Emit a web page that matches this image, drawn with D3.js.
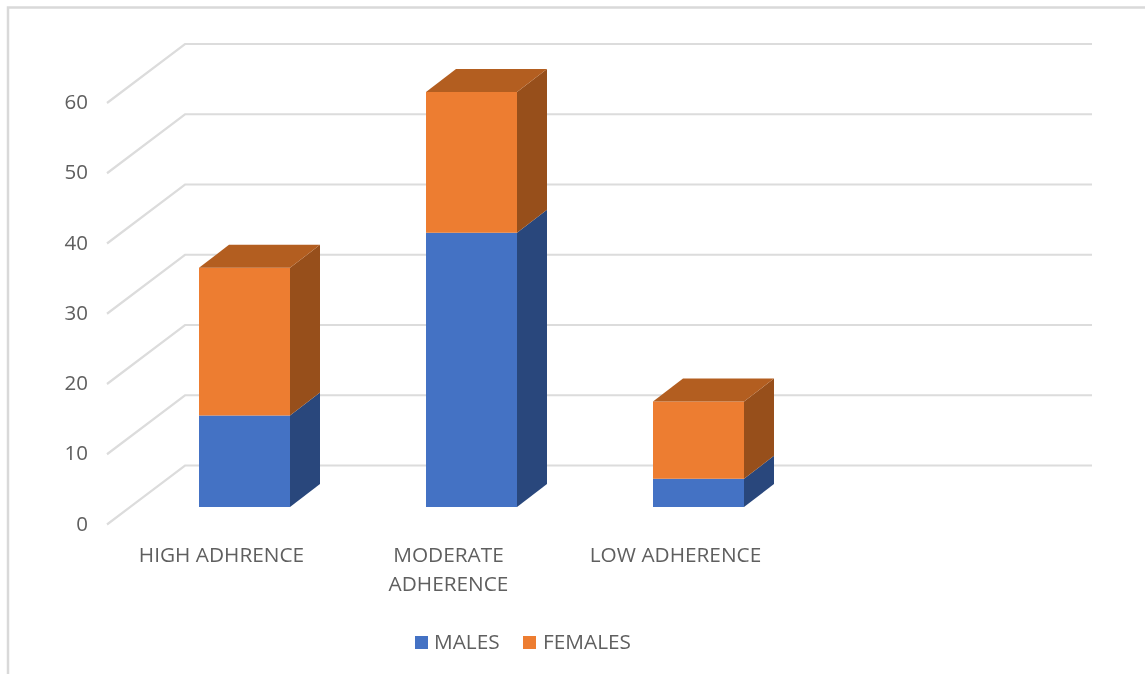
<!DOCTYPE html>
<html><head><meta charset="utf-8">
<script src="https://cdn.jsdelivr.net/npm/d3@7"></script>
<style>html,body{margin:0;background:#fff}svg{display:block;filter:blur(0.45px)}text{font-family:"Open Sans",sans-serif;fill:#5f5f5f}</style>
</head><body><svg id="c" width="1145" height="674"></svg>
<script>
const categories=[["HIGH ADHRENCE"],["MODERATE","ADHERENCE"],["LOW ADHERENCE"]];
const males=[13,39,4];
const females=[21,20,11];
const ticks=[0,10,20,30,40,50,60];
const seriesNames=["MALES","FEMALES"];
const frontColors=["#4472C4","#ED7D31"];
const sideColors=["#29477C","#974F1B"];
const topColor="#B35E20";

const svg=d3.select("#c");
// chart frame
svg.append("path").attr("d","M8,674V7.5H1145").attr("fill","none").attr("stroke","#d9d9d9").attr("stroke-width",2.5);

const yFront=d3.scaleLinear().domain([0,60]).range([524.5,103]);
const wallDx=78,wallDy=-59,wallLeft=107,wallRight=1092;
const gridG=svg.append("g");
ticks.forEach(t=>{
  const y=yFront(t);
  gridG.append("path")
   .attr("d",d3.line()([[wallLeft,y],[wallLeft+wallDx,y+wallDy],[wallRight,y+wallDy]]))
   .attr("fill","none").attr("stroke","#dcdcdc").attr("stroke-width",2.2);
});
// value axis labels
const axis=d3.axisLeft(yFront).tickValues(ticks).tickSize(0).tickPadding(0);
const ax=svg.append("g").attr("transform","translate(88,-1)").call(axis);
ax.select(".domain").remove();
ax.selectAll("text").style("font-size","20.5px").style("font-family",'"Open Sans",sans-serif');

// bars
const x=d3.scaleBand().domain(d3.range(categories.length)).range([199,199+227*3]);
const bw=91,barDx=30,barDy=-23;
const yBar=d3.scaleLinear().domain([0,60]).range([507,85]);
const barG=svg.append("g");
const poly=(pts,fill)=>barG.append("polygon").attr("points",pts.map(p=>p.join(",")).join(" ")).attr("fill",fill);
categories.forEach((c,i)=>{
  const x0=x(i),x1=x0+bw;
  const stack=[[0,males[i]],[males[i],males[i]+females[i]]];
  stack.forEach((s,k)=>{
    const yb=yBar(s[0]),yt=yBar(s[1]);
    poly([[x1,yb],[x1+barDx,yb+barDy],[x1+barDx,yt+barDy],[x1,yt]],sideColors[k]);
    poly([[x0,yb],[x1,yb],[x1,yt],[x0,yt]],frontColors[k]);
    if(k===1) poly([[x0,yt],[x1,yt],[x1+barDx,yt+barDy],[x0+barDx,yt+barDy]],topColor);
  });
  const t=svg.append("text").attr("text-anchor","middle").style("font-size","20.8px");
  c.forEach((ln,j)=>t.append("tspan").attr("x",x0+22.5).attr("y",562+j*29).text(ln));
});

// legend
const legendX=[415,523],legendTextX=[434,543];
seriesNames.forEach((n,i)=>{
  svg.append("rect").attr("x",legendX[i]).attr("y",636).attr("width",13).attr("height",13).attr("fill",frontColors[i]);
  svg.append("text").attr("x",legendTextX[i]).attr("y",649).style("font-size","20.8px").text(n);
});
</script></body></html>
